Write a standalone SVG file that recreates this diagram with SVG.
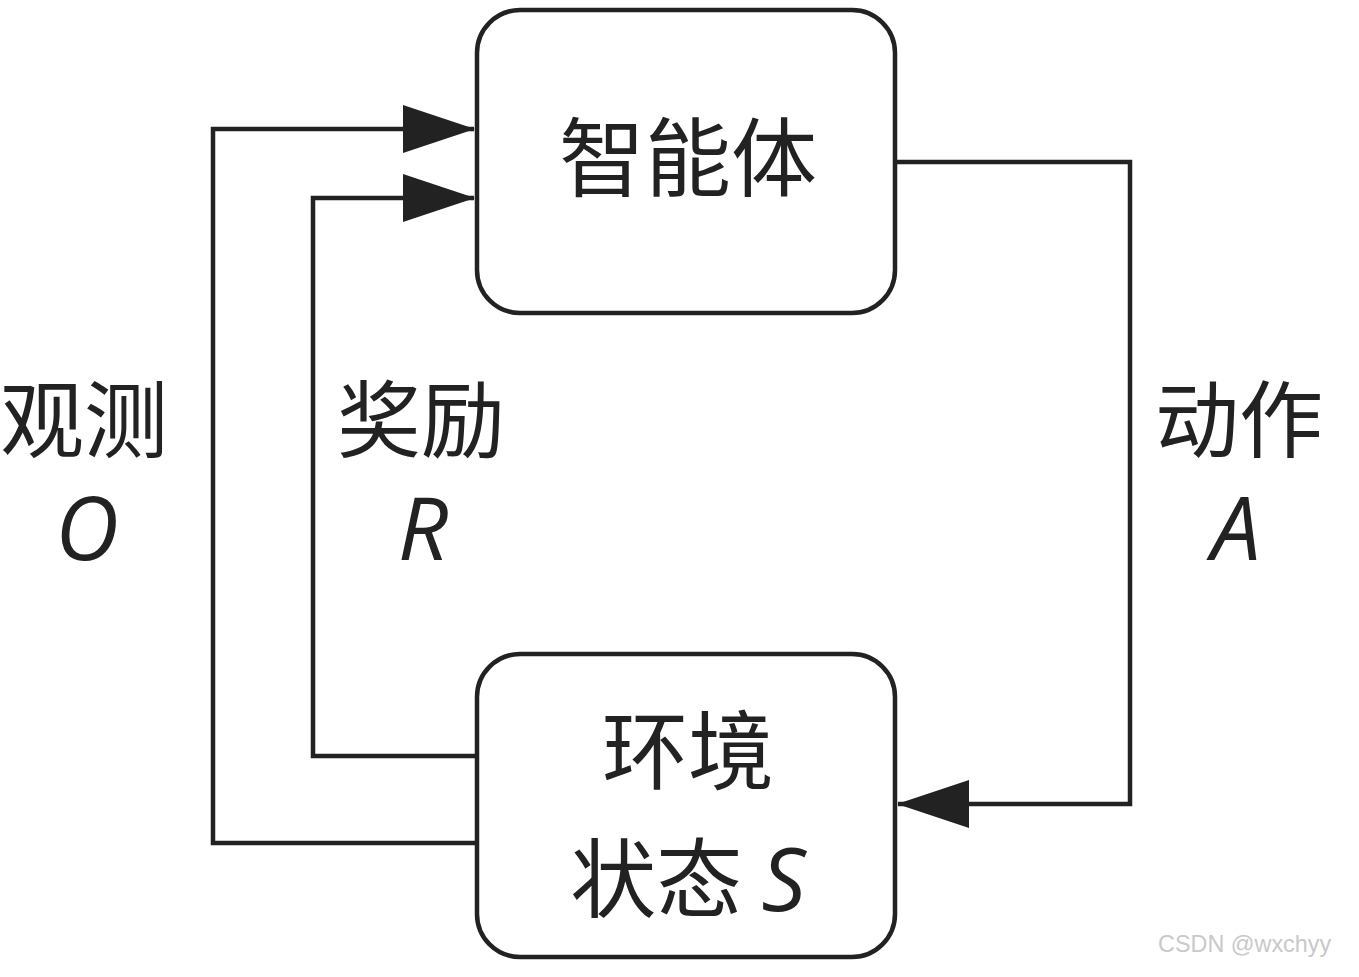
<svg xmlns="http://www.w3.org/2000/svg" width="1359" height="977" viewBox="0 0 1359 977">
<defs>
<style>
.box{fill:#fff;stroke:#222;stroke-width:4.5}
.conn{fill:none;stroke:#222;stroke-width:4.5;stroke-linejoin:miter}
.cjk{font-family:"Noto Sans CJK SC","Noto Sans",sans-serif;fill:#222;text-anchor:middle}
.lat{font-family:"Open Sans","Noto Sans",sans-serif;font-style:italic;fill:#222;text-anchor:middle}
.wm{font-family:"Liberation Sans",Arial,sans-serif;fill:#c9c9c9;font-size:23.4px}
</style>
<marker id="ah" markerUnits="userSpaceOnUse" markerWidth="72" markerHeight="50" refX="71" refY="24" orient="auto" viewBox="0 0 72 48">
<path d="M0,0 L72,24 L0,48 Z" fill="#222"/>
</marker>
</defs>
<rect width="1359" height="977" fill="#fff"/>
<g id="connectors">
<path class="conn" d="M477,843 H213 V129 H474" marker-end="url(#ah)"/>
<path class="conn" d="M477,756 H313 V198 H474" marker-end="url(#ah)"/>
<path class="conn" d="M895,162 H1130 V804 H898" marker-end="url(#ah)"/>
</g>
<g id="agent">
<rect class="box" x="477" y="10" width="418" height="303" rx="43" ry="43"/>
<text class="cjk" x="688" y="190" font-size="86">智能体</text>
</g>
<g id="environment">
<rect class="box" x="477" y="654" width="418" height="303" rx="43" ry="43"/>
<text class="cjk" x="688" y="783" font-size="86">环境</text>
<text class="cjk" x="688" y="911" font-size="86">状态 <tspan class="lat" font-size="88">S</tspan></text>
</g>
<g id="label-observation">
<text class="cjk" x="84" y="451" font-size="84">观测</text>
<text class="lat" x="87" y="560" font-size="88">O</text>
</g>
<g id="label-reward">
<text class="cjk" x="421" y="451" font-size="84">奖励</text>
<text class="lat" x="423" y="560" font-size="88">R</text>
</g>
<g id="label-action">
<text class="cjk" x="1239" y="451" font-size="84">动作</text>
<text class="lat" x="1236" y="560" font-size="88">A</text>
</g>
<text class="wm" x="1158" y="952">CSDN @wxchyy</text>
</svg>
